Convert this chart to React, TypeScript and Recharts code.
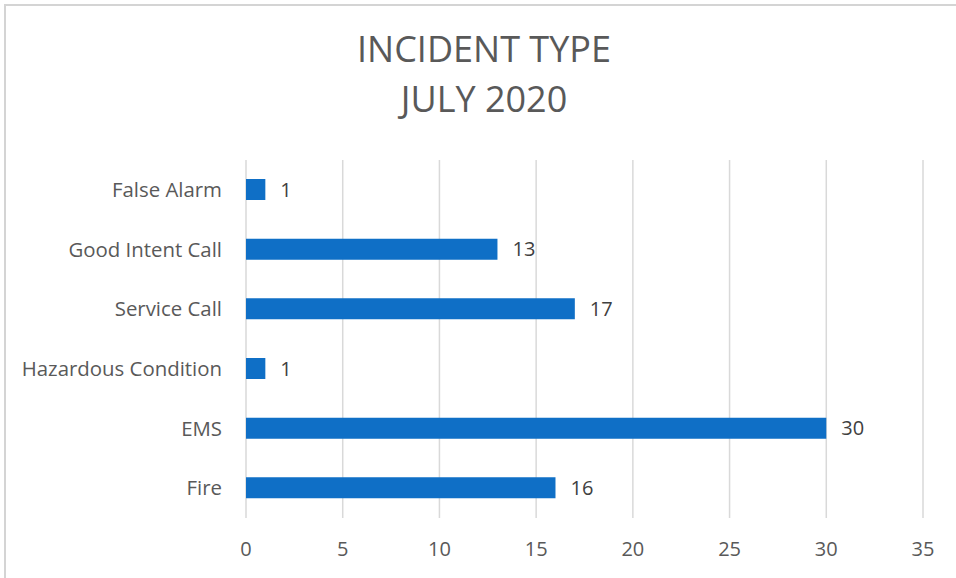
import React from 'react';
import { BarChart, Bar, XAxis, YAxis, CartesianGrid, LabelList } from 'recharts';

const categories = ['False Alarm', 'Good Intent Call', 'Service Call', 'Hazardous Condition', 'EMS', 'Fire'];
const incidents = [1, 13, 17, 1, 30, 16];
const xTicks = [0, 5, 10, 15, 20, 25, 30, 35];
const titleLines = ['INCIDENT TYPE', 'JULY 2020'];

const data = categories.map((name, i) => ({ name, value: incidents[i] }));

const FONT = '"Open Sans", "Noto Sans", sans-serif';

export default function App() {
  return (
    <div style={{ position: 'fixed', left: 0, top: 0, width: 956, height: 578, overflow: 'hidden', background: '#fff', fontFamily: FONT }}>
      <div style={{ position: 'absolute', left: 0, top: 0 }}>
        <BarChart
          width={956}
          height={578}
          data={data}
          layout="vertical"
          margin={{ top: 160, right: 33, bottom: 0, left: 0 }}
          barSize={21}
        >
          <CartesianGrid horizontal={false} vertical stroke="#d9d9d9" strokeWidth={1.5} />
          <XAxis
            type="number"
            domain={[0, 35]}
            ticks={xTicks}
            axisLine={false}
            tickLine={false}
            tickMargin={18}
            tick={{ fill: '#595959', fontSize: 20, fontFamily: FONT }}
            height={60}
          />
          <YAxis
            type="category"
            dataKey="name"
            width={246}
            axisLine={false}
            tickLine={false}
            tickMargin={18}
            tick={{ fill: '#595959', fontSize: 20.4, fontFamily: FONT }}
            interval={0}
          />
          <Bar dataKey="value" fill="#0F6FC6" isAnimationActive={false}>
            <LabelList dataKey="value" position="right" offset={15} fill="#404040" fontSize={20} fontFamily={FONT} />
          </Bar>
        </BarChart>
      </div>
      <svg width={956} height={578} style={{ position: 'absolute', left: 0, top: 0, pointerEvents: 'none' }}>
        <rect x={5} y={5} width={1200} height={1200} fill="none" stroke="#d4d4d4" strokeWidth={2} />
        {titleLines.map((t, i) => (
          <text key={t} x={484} y={62 + i * 50} textAnchor="middle" fontFamily={FONT} fontWeight={400} fontSize={36} fill="#595959">
            {t}
          </text>
        ))}
      </svg>
    </div>
  );
}
